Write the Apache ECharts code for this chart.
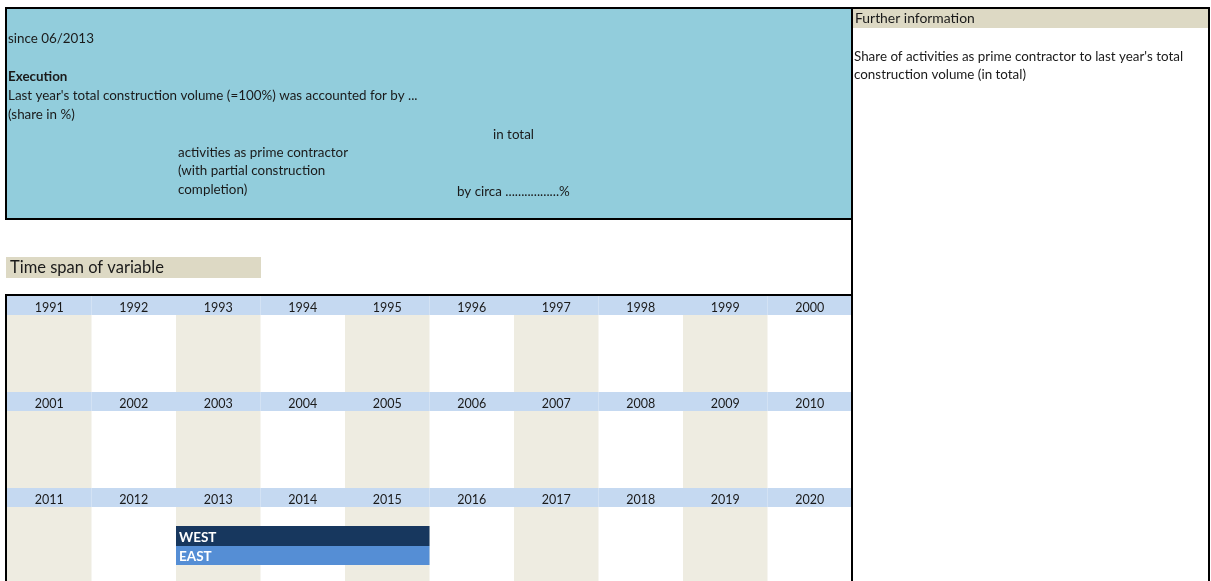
<!DOCTYPE html>
<html><head><meta charset="utf-8">
<script src="https://cdn.jsdelivr.net/npm/echarts@6/dist/echarts.min.js"></script>
<style>html,body{margin:0;padding:0;background:#fff;overflow:hidden}#c{width:1211px;height:581px}</style>
</head><body><div id="c"></div>
<script>
// ---- data ----
const years = [1991,1992,1993,1994,1995,1996,1997,1998,1999,2000,
               2001,2002,2003,2004,2005,2006,2007,2008,2009,2010,
               2011,2012,2013,2014,2015,2016,2017,2018,2019,2020];
const regionNames = ['WEST', 'EAST'];
const regionStart = [2013, 2013];
const regionEnd = [2015, 2015];

// ---- layout / styles ----
const FONT = 'Lato';
const FS = 13.4;
const DY = 1;                 // text baseline nudge
const ROW_PX = 96;            // pixel pitch of one decade row
const GRID_TOP = 296, GRID_H = 285;
const HDR = 19 / ROW_PX;      // header band fraction of a decade row
const BAR_Y = [[38 / ROW_PX, 58 / ROW_PX], [58 / ROW_PX, 77 / ROW_PX]];
const BAR_COLORS = ['#17375E', '#558ED5'];

const chart = echarts.init(document.getElementById('c'), null, {renderer: 'canvas'});

function renderYear(params, api) {
  const yr = api.value(0);
  const idx = yr - years[0];
  const col = idx % 10, row = Math.floor(idx / 10);
  const p0 = api.coord([col, row]);
  const p1 = api.coord([col + 1, row + HDR]);
  const p2 = api.coord([col + 1, row + 1]);
  const ch = [];
  if (col % 2 === 0) {
    ch.push({type: 'rect', shape: {x: p0[0], y: p1[1], width: p2[0] - p0[0], height: p2[1] - p1[1]},
             style: {fill: '#EEECE1'}});
  }
  ch.push({type: 'rect', shape: {x: p0[0], y: p0[1], width: p1[0] - p0[0], height: p1[1] - p0[1]},
           style: {fill: '#C5D9F1'}});
  ch.push({type: 'text', x: (p0[0] + p1[0]) / 2, y: (p0[1] + p1[1]) / 2 + 2.5,
           style: {text: String(yr), fill: '#1a1a1a', font: '12.5px ' + FONT, align: 'center', verticalAlign: 'middle'}});
  return {type: 'group', children: ch};
}

function renderRegion(params, api) {
  const s = api.value(0), e = api.value(1), k = api.value(2);
  const i0 = s - years[0], i1 = e - years[0];
  const row = Math.floor(i0 / 10);
  const a = api.coord([i0 % 10, row + BAR_Y[k][0]]);
  const b = api.coord([i1 % 10 + 1, row + BAR_Y[k][1]]);
  return {type: 'group', children: [
    {type: 'rect', shape: {x: a[0], y: a[1], width: b[0] - a[0], height: b[1] - a[1]}, style: {fill: BAR_COLORS[k]}},
    {type: 'text', x: a[0] + 3, y: (a[1] + b[1]) / 2 + 1.5,
     style: {text: regionNames[k], fill: '#fff', font: 'bold 13.5px ' + FONT, align: 'left', verticalAlign: 'middle'}}
  ]};
}

function txt(x, y, s, opt) {
  opt = opt || {};
  return {type: 'text', x: x, y: y + DY, z: 50,
          style: {text: s, fill: '#1a1a1a', font: (opt.bold ? 'bold ' : '') + (opt.size || FS) + 'px ' + FONT,
                  align: 'left', verticalAlign: 'middle'}};
}
function line(x1, y1, x2, y2) {
  return {type: 'line', z: 100, shape: {x1: x1, y1: y1, x2: x2, y2: y2}, style: {stroke: '#000', lineWidth: 2}};
}

const option = {
  animation: false,
  grid: {left: 7, top: GRID_TOP, width: 845, height: GRID_H, containLabel: false, outerBoundsMode: 'none'},
  xAxis: {type: 'value', min: 0, max: 10, show: false},
  yAxis: {type: 'value', min: 0, max: GRID_H / ROW_PX, inverse: true, show: false},
  series: [
    {type: 'custom', silent: true, renderItem: renderYear, data: years.map(y => [y]), clip: false, z: 2},
    {type: 'custom', silent: true, renderItem: renderRegion,
     data: regionNames.map((n, k) => [regionStart[k], regionEnd[k], k]), clip: false, z: 3}
  ],
  graphic: [
    // top blue box
    {type: 'rect', z: 1, shape: {x: 6, y: 8, width: 846, height: 211}, style: {fill: '#92CDDC'}},
    txt(8, 38, 'since 06/2013'),
    txt(8, 76, 'Execution', {bold: true}),
    txt(8, 95, "Last year's total construction volume (=100%) was accounted for by ..."),
    txt(8, 114, '(share in %)'),
    txt(493, 134, 'in total'),
    txt(178, 152, 'activities as prime contractor'),
    txt(178, 170, '(with partial construction'),
    txt(178, 189, 'completion)'),
    txt(457, 191, 'by circa .................%'),
    // further information panel
    {type: 'rect', z: 1, shape: {x: 853, y: 9, width: 356, height: 19}, style: {fill: '#DDD9C4'}},
    txt(855, 18, 'Further information', {size: 13.9}),
    txt(854, 56, "Share of activities as prime contractor to last year's total"),
    txt(854, 74, 'construction volume (in total)'),
    // time span label
    {type: 'rect', z: 1, shape: {x: 6, y: 257, width: 255, height: 21}, style: {fill: '#DDD9C4'}},
    txt(10, 267, 'Time span of variable', {size: 16.5}),
    // borders
    line(5, 8, 1210, 8),
    line(6, 8, 6, 219),
    line(5, 219, 853, 219),
    line(852, 8, 852, 581),
    line(1209, 8, 1209, 581),
    line(5, 295, 853, 295),
    line(6, 295, 6, 581)
  ]
};
chart.setOption(option);
</script>
</body></html>
